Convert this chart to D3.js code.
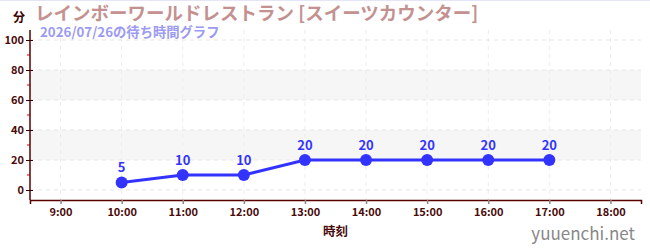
<!DOCTYPE html>
<html>
<head>
<meta charset="utf-8">
<script src="https://cdn.jsdelivr.net/npm/d3@7"></script>
<style>
  body { margin: 0; background: #fff; }
  text { font-family: "Noto Sans CJK JP", "Noto Sans", sans-serif; }
</style>
</head>
<body>
<div id="chart-area"></div>
<script>
// data
var times = ['10:00', '11:00', '12:00', '13:00', '14:00', '15:00', '16:00', '17:00']
var waits = [5, 10, 10, 20, 20, 20, 20, 20]
var hourTicks = [9, 10, 11, 12, 13, 14, 15, 16, 17, 18]
var yTicks = [0, 20, 40, 60, 80, 100]
var yMinor = [10, 30, 50, 70, 90]
var bands = [[20, 40], [60, 80]]

var title = 'レインボーワールドレストラン [スイーツカウンター]'
var subtitle = '2026/07/26の待ち時間グラフ'

var W = 650, H = 250
var margin = { top: 30, left: 30, bottom: 50, right: 9 }
var width = W - margin.left - margin.right
var height = H - margin.top - margin.bottom

var toHour = s => +s.split(':')[0] + (+s.split(':')[1]) / 60
var data = times.map((t, i) => ({ t: toHour(t), v: waits[i] }))

var svg = d3.select('#chart-area').append('svg')
    .attr('width', W)
    .attr('height', H)

svg.append('rect').attr('x', 0).attr('y', 0).attr('width', W).attr('height', 1).attr('fill', '#e4e4fb')

var g = svg.append('g').attr('transform', `translate(${margin.left}, ${margin.top})`)

var x = d3.scaleLinear().domain([8.5, 18.5]).range([0, width])
var y = d3.scaleLinear().domain([-6.67, 106.67]).range([height, 0])

// bands
g.selectAll('.band').data(bands).enter().append('rect')
    .attr('class', 'band')
    .attr('x', 0)
    .attr('width', width)
    .attr('y', d => y(d[1]))
    .attr('height', d => y(d[0]) - y(d[1]))
    .attr('fill', '#f6f6f6')

// grid
g.selectAll('.hgrid').data(yTicks).enter().append('line')
    .attr('x1', 0).attr('x2', width)
    .attr('y1', d => y(d)).attr('y2', d => y(d))
    .attr('stroke', '#e6e6e6').attr('stroke-dasharray', '4,4')

g.selectAll('.vgrid').data(hourTicks).enter().append('line')
    .attr('x1', d => x(d)).attr('x2', d => x(d))
    .attr('y1', 0).attr('y2', height)
    .attr('stroke', '#ececec').attr('stroke-dasharray', '4,4')

// x axis
var xAxisGroup = g.append('g').attr('transform', `translate(0, ${height})`)
    .call(d3.axisBottom(x).tickValues(hourTicks).tickFormat(d => d + ':00').tickSize(4).tickPadding(4))
xAxisGroup.select('.domain').attr('stroke', '#5a0000').attr('stroke-width', 1.5)
xAxisGroup.selectAll('.tick line').attr('stroke', '#888').attr('stroke-width', 1.5)
xAxisGroup.selectAll('.tick text').attr('fill', '#4a0a0a').attr('font-size', '11px')
    .attr('font-weight', 'bold')

// y minor ticks
g.selectAll('.minor').data(yMinor).enter().append('line')
    .attr('x1', -3).attr('x2', 0)
    .attr('y1', d => y(d)).attr('y2', d => y(d))
    .attr('stroke', '#e00000')

// y axis
var yAxisGroup = g.append('g')
    .call(d3.axisLeft(y).tickValues(yTicks).tickSize(4).tickPadding(2))
yAxisGroup.select('.domain').attr('stroke', '#5a0000').attr('stroke-width', 1.5).attr('d', `M0,0V${height}`)
yAxisGroup.selectAll('.tick line').attr('stroke', '#3a0000').attr('x1', 3)
yAxisGroup.selectAll('.tick text').attr('fill', '#4a0a0a').attr('font-size', '11px')
    .attr('font-weight', 'bold')

// line
var line = d3.line().x(d => x(d.t)).y(d => y(d.v))
g.append('path').datum(data)
    .attr('d', line)
    .attr('fill', 'none')
    .attr('stroke', '#3333ff')
    .attr('stroke-width', 3)

g.selectAll('.pt').data(data).enter().append('circle')
    .attr('cx', d => x(d.t)).attr('cy', d => y(d.v)).attr('r', 6)
    .attr('fill', '#3333ff')

g.selectAll('.lbl').data(data).enter().append('text')
    .attr('x', d => x(d.t)).attr('y', d => y(d.v) - 10)
    .attr('text-anchor', 'middle')
    .attr('font-size', '13px').attr('font-weight', 'bold')
    .attr('fill', '#3333ff')
    .text(d => d.v)

// titles
svg.append('text').attr('x', 35).attr('y', 20)
    .attr('font-size', '18.5px').attr('font-weight', 'bold').attr('fill', '#c49191')
    .text(title)
svg.append('text').attr('x', 40).attr('y', 37)
    .attr('font-size', '13.3px').attr('font-weight', 'bold').attr('fill', '#9b9bf2')
    .text(subtitle)

svg.append('text').attr('x', 13).attr('y', 22)
    .attr('font-size', '12px').attr('font-weight', 'bold').attr('fill', '#3a0000')
    .text('分')

svg.append('text').attr('x', margin.left + width / 2).attr('y', 236)
    .attr('text-anchor', 'middle')
    .attr('font-size', '12.5px').attr('font-weight', 'bold').attr('fill', '#4a0a0a')
    .text('時刻')

svg.append('text').attr('x', 635).attr('y', 240)
    .attr('text-anchor', 'end')
    .attr('font-size', '17px').attr('fill', '#888')
    .text('yuuenchi.net')
</script>
</body>
</html>
